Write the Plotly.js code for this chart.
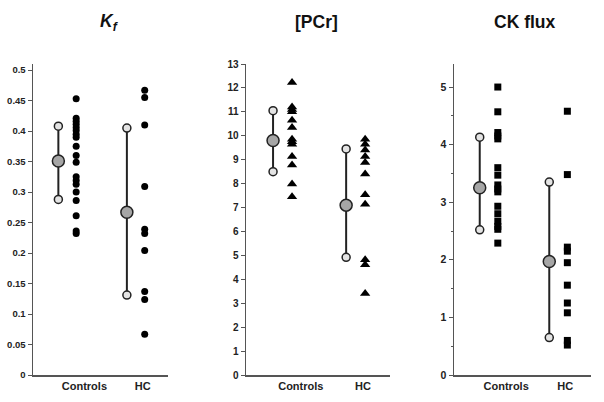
<!DOCTYPE html>
<html><head><meta charset="utf-8">
<script src="https://cdn.plot.ly/plotly-3.0.1.min.js"></script>
<style>html,body{margin:0;padding:0;background:#fff}#chart{width:604px;height:402px}</style>
</head><body><div id="chart"></div>
<script>
// Category labels
const categories = ["Controls", "HC"];
const panelTitles = ["<i>K<sub>f</sub></i>", "[PCr]", "CK flux"];

// Kf individual values
const kfControls = [0.453, 0.421, 0.416, 0.411, 0.406, 0.401, 0.395, 0.390, 0.375, 0.360, 0.349, 0.325, 0.319, 0.313, 0.300, 0.286, 0.261, 0.236, 0.232];
const kfHC = [0.467, 0.455, 0.410, 0.309, 0.239, 0.232, 0.204, 0.137, 0.124, 0.067];
// Kf summary [low, mean, high]
const kfSummaryControls = [0.288, 0.351, 0.408];
const kfSummaryHC = [0.131, 0.267, 0.405];

// [PCr] individual values
const pcrControls = [12.23, 11.2, 11.1, 11.0, 10.65, 10.35, 9.85, 9.75, 9.65, 9.13, 8.78, 7.98, 7.45];
const pcrHC = [9.85, 9.65, 9.4, 9.13, 8.88, 8.4, 7.53, 7.14, 4.82, 4.61, 3.41];
const pcrSummaryControls = [8.5, 9.8, 11.05];
const pcrSummaryHC = [4.92, 7.1, 9.45];

// CK flux individual values
const ckControls = [5.0, 4.57, 4.21, 4.15, 4.10, 3.60, 3.47, 3.30, 3.23, 3.18, 2.93, 2.80, 2.67, 2.58, 2.53, 2.29];
const ckHC = [4.58, 3.48, 2.22, 2.15, 1.95, 1.56, 1.25, 1.08, 0.60, 0.52];
const ckSummaryControls = [2.52, 3.25, 4.13];
const ckSummaryHC = [0.65, 1.97, 3.35];

// Axis ticks
const kfTicks = [0, 0.05, 0.1, 0.15, 0.2, 0.25, 0.3, 0.35, 0.4, 0.45, 0.5];
const pcrTicks = [0,1,2,3,4,5,6,7,8,9,10,11,12,13];
const ckTicks = [0,1,2,3,4,5];

const FONT = "Liberation Sans, Arial, sans-serif";
const panels = [
  {ctrl: kfControls, hc: kfHC, sc: kfSummaryControls, sh: kfSummaryHC, sym: "circle", msize: 7, ticks: kfTicks, range: [0, 0.51], minor: false, tfs: 9.5},
  {ctrl: pcrControls, hc: pcrHC, sc: pcrSummaryControls, sh: pcrSummaryHC, sym: "triangle-up", msize: 9, ticks: pcrTicks, range: [0, 13.0], minor: false, tfs: 10},
  {ctrl: ckControls, hc: ckHC, sc: ckSummaryControls, sh: ckSummaryHC, sym: "square", msize: 7, ticks: ckTicks, range: [0, 5.4], minor: true, tfs: 10.5}
];
const domains = [[33/604, 168/604], [246/604, 390/604], [454/604, 591/604]];
const OFF = 0.13;
const catPos = [1, 2];
const labelPos = [1.25, 2.1];

const traces = [];
const layout = {
  width: 604, height: 402,
  margin: {l: 0, r: 0, t: 64, b: 27},
  paper_bgcolor: "#fff", plot_bgcolor: "#fff",
  showlegend: false,
  font: {family: FONT, color: "#222"},
  annotations: []
};
panels.forEach((p, i) => {
  const xa = i === 0 ? "x" : "x" + (i + 1);
  const ya = i === 0 ? "y" : "y" + (i + 1);
  const xk = i === 0 ? "xaxis" : "xaxis" + (i + 1);
  const yk = i === 0 ? "yaxis" : "yaxis" + (i + 1);
  [p.ctrl, p.hc].forEach((vals, g) => {
    traces.push({type: "scatter", mode: "markers", xaxis: xa, yaxis: ya,
      x: vals.map(() => catPos[g] + OFF), y: vals,
      marker: {symbol: p.sym, size: p.msize, color: "#000"}, hoverinfo: "y", cliponaxis: false});
  });
  [p.sc, p.sh].forEach((s, g) => {
    const xc = catPos[g] - OFF;
    traces.push({type: "scatter", mode: "lines", xaxis: xa, yaxis: ya,
      x: [xc, xc], y: [s[0], s[2]], line: {color: "#222", width: 2}, hoverinfo: "skip"});
    traces.push({type: "scatter", mode: "markers", xaxis: xa, yaxis: ya,
      x: [xc, xc], y: [s[0], s[2]],
      marker: {symbol: "circle", size: 8, color: "#e4e4e4", line: {color: "#222", width: 1.5}}, cliponaxis: false});
    traces.push({type: "scatter", mode: "markers", xaxis: xa, yaxis: ya,
      x: [xc], y: [s[1]],
      marker: {symbol: "circle", size: 12, color: "#a6a6a6", line: {color: "#222", width: 1.5}}, cliponaxis: false});
  });
  layout[xk] = {domain: domains[i], range: [0.5, 2.47], anchor: ya,
    showline: true, linecolor: "#555", linewidth: 1.5, ticks: "", showgrid: false, zeroline: false,
    tickmode: "array", tickvals: labelPos, ticktext: categories,
    tickfont: {size: 11, family: FONT, color: "#222", weight: "bold"}};
  layout[yk] = {domain: [0, 1], range: p.range, anchor: xa,
    showline: true, linecolor: "#555", linewidth: 1.5, ticks: "outside", ticklen: 4, tickwidth: 1, tickcolor: "#555",
    showgrid: false, zeroline: false, tickmode: "array", tickvals: p.ticks,
    tickfont: {size: p.tfs, family: FONT, color: "#222", weight: "bold"}};
  if (p.minor) {
    layout[yk].minor = {dtick: 0.5, ticks: "outside", ticklen: 2, tickcolor: "#555", showgrid: false};
    layout[yk].tickmode = "linear"; layout[yk].dtick = 1; layout[yk].tick0 = 0; delete layout[yk].tickvals;
  }
  layout.annotations.push({text: "<b>" + panelTitles[i] + "</b>", xref: "paper", yref: "paper",
    x: [110/604, 316/604, 525/604][i], y: 1 + (64 - 22) / 311, yanchor: "middle", xanchor: "center",
    showarrow: false, font: {size: 17.5, family: FONT, color: "#111"}});
});
Plotly.newPlot("chart", traces, layout, {displayModeBar: false, staticPlot: true});
</script></body></html>
